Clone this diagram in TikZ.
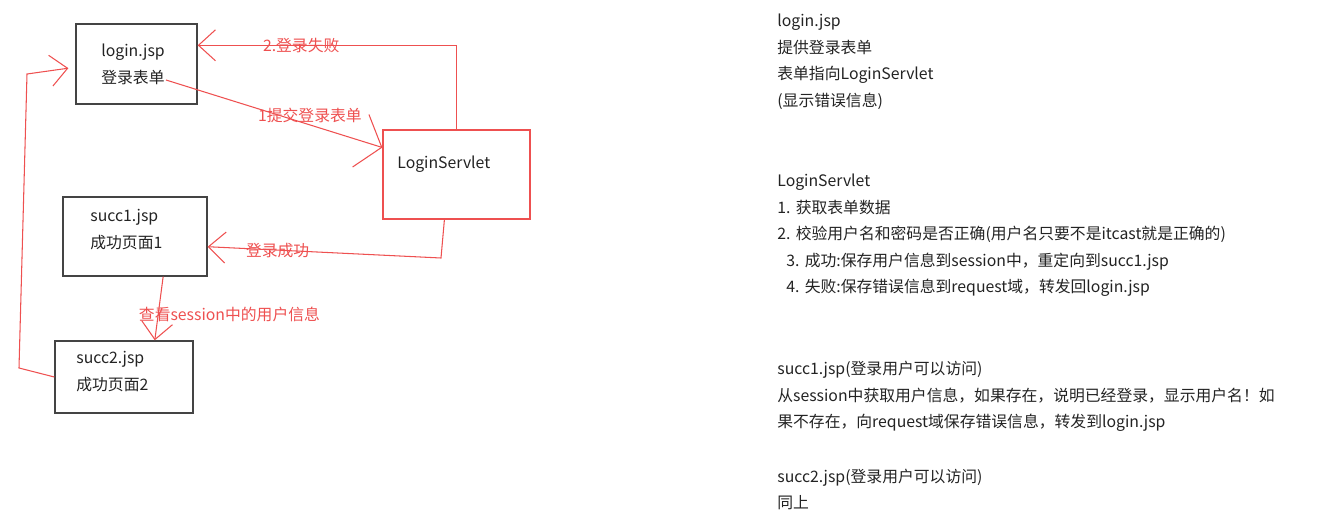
\documentclass[tikz,border=0pt]{standalone}
\usepackage{fontspec}
\setmainfont{Noto Sans CJK SC}
\usetikzlibrary{arrows.meta}
\frenchspacing

\definecolor{penred}{RGB}{238,80,80}
\definecolor{ink}{RGB}{35,35,35}

\tikzset{
  page/.style={draw=ink!85, line width=0.8pt, inner sep=0pt},
  servletbox/.style={draw=penred, line width=0.7pt, inner sep=0pt},
  txt/.style={text=ink, font=\fontsize{9}{15}\selectfont, align=left,
    text width=#1, inner sep=0pt, anchor=base west},
  txt/.default=3cm,
  flow/.style={draw=penred, line width=0.6pt,
    -{Straight Barb[length=0.34cm,width=0.62cm]}},
  lbl/.style={text=penred, font=\fontsize{9}{11}\selectfont, inner sep=0pt}
}

\begin{document}
\begin{tikzpicture}[x=0.02cm, y=-0.02cm]
\useasboundingbox (0,0) rectangle (1330,530);

% pages
\node[page, minimum width=2.42cm, minimum height=1.6cm] (login) at (136.5,64) {};
\node[servletbox, minimum width=2.94cm, minimum height=1.78cm] (servlet) at (456.5,174.5) {};
\node[page, minimum width=2.88cm, minimum height=1.58cm] (succ1) at (135,236.5) {};
\node[page, minimum width=2.76cm, minimum height=1.44cm] (succ2) at (124,377) {};

\node[txt] (logintxt) at (101,57) {login.jsp\\登录表单};
\node[txt] (servlettxt) at (397,169) {LoginServlet};
\node[txt] (succ1txt) at (90,222) {succ1.jsp\\成功页面1};
\node[txt] (succ2txt) at (76,364) {succ2.jsp\\成功页面2};

% flow between the pages
\coordinate (submitfrom) at (166,80);
\coordinate (okturn) at (441,258);
\coordinate (backlow) at (19,368);
\coordinate (backtop) at (27,74);

\draw[flow, -{Straight Barb[length=0.44cm,width=1.1cm]}] (submitfrom) -- node[lbl, pos=0.665, above=1pt] {1提交登录表单} (servlet.160);
\draw[flow] (servlet.north) |- node[lbl, pos=0.8] {2.登录失败} (login.17);
\draw[flow] (servlet.-105) -- (okturn) -- node[lbl, pos=0.7] {登录成功} (succ1.-8);
\draw[flow] (succ1.-55) -- node[lbl, midway, xshift=1.41cm, yshift=-0.11cm] {查看session中的用户信息} (succ2.50);
\draw[flow, shorten >=0.14cm] (succ2.west) -- (backlow) -- (backtop) -- (login.183);

% notes
\node[txt=12cm] (loginnote) at (777,27) {login.jsp\\提供登录表单\\表单指向LoginServlet\\(显示错误信息)};
\node[txt=12cm] (servletnote) at (777,187) {LoginServlet\\1. 获取表单数据\\2. 校验用户名和密码是否正确(用户名只要不是itcast就是正确的)\\
  \hspace*{0.18cm}3. 成功:保存用户信息到session中，重定向到succ1.jsp\\
  \hspace*{0.18cm}4. 失败:保存错误信息到request域，转发回login.jsp};
\node[txt=12cm] (succ1note) at (777,375) {succ1.jsp(登录用户可以访问)\\从session中获取用户信息，如果存在，说明已经登录，显示用户名！如\\果不存在，向request域保存错误信息，转发到login.jsp};
\node[txt=12cm] (succ2note) at (777,482) {succ2.jsp(登录用户可以访问)\\同上};

\end{tikzpicture}
\end{document}
